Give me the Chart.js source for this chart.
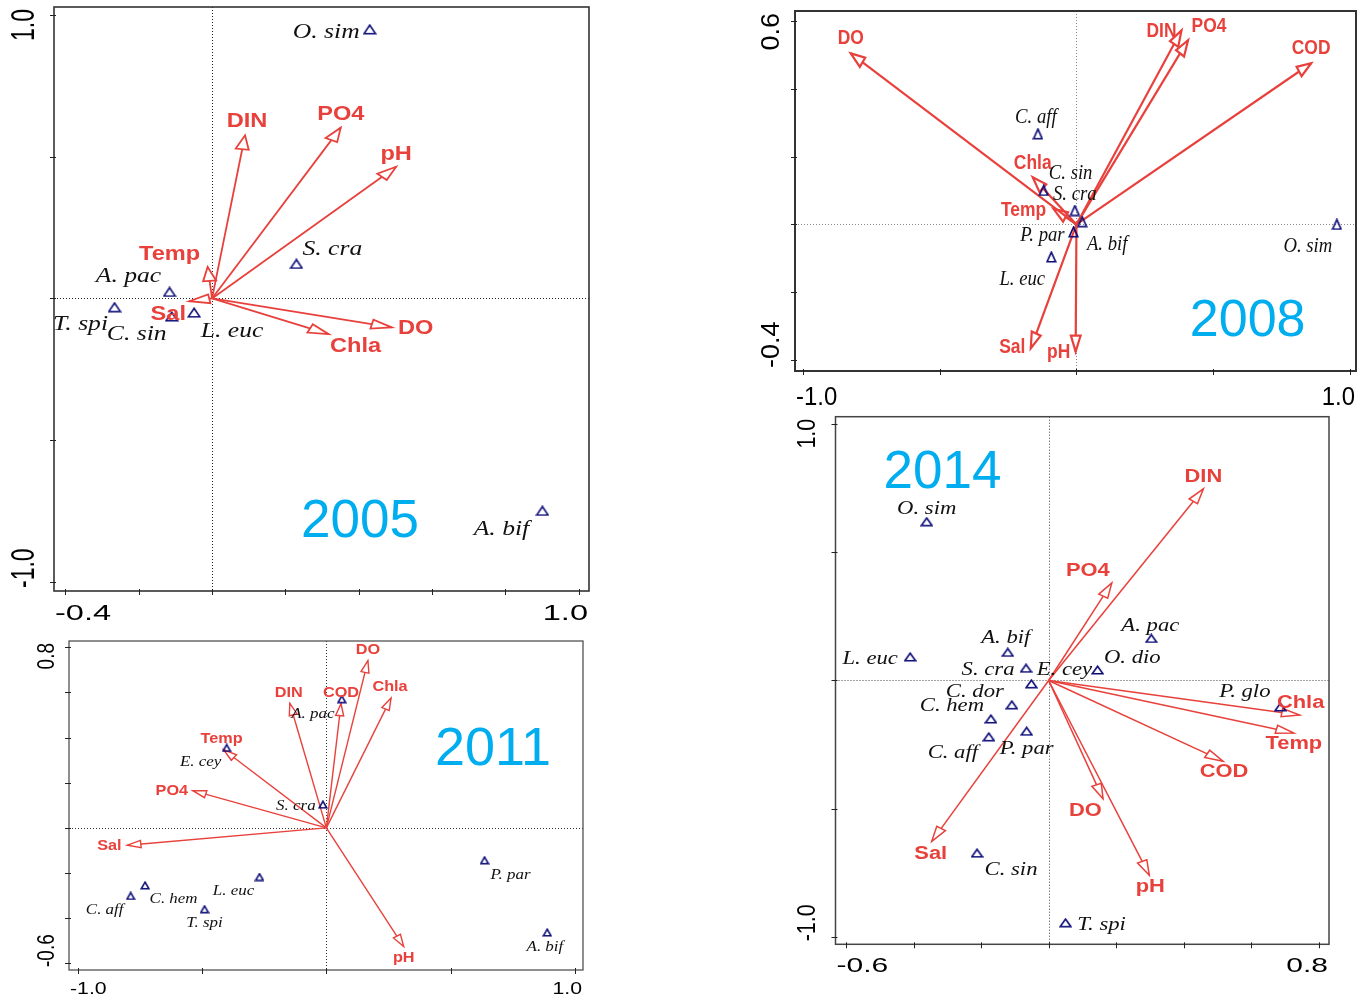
<!DOCTYPE html>
<html>
<head>
<meta charset="utf-8">
<title>RDA biplots 2005-2014</title>
<script src="https://cdn.jsdelivr.net/npm/chart.js@4.4.1/dist/chart.umd.min.js"></script>
<style>
  html, body { margin: 0; padding: 0; background: #ffffff; }
  body { width: 1362px; height: 999px; position: relative; overflow: hidden; }
  canvas { position: absolute; display: block; }
</style>
</head>
<body>
<canvas id="c2005"></canvas>
<canvas id="c2008"></canvas>
<canvas id="c2011"></canvas>
<canvas id="c2014"></canvas>
<script>
// ---------------- data ----------------
const years = ['2005', '2008', '2011', '2014'];

// 2005: environmental vectors and species scores (axis 1, axis 2)
const envNames2005 = ['DIN', 'PO4', 'pH', 'Temp', 'Sal', 'DO', 'Chla'];
const envX2005 = [0.090, 0.351, 0.502, -0.012, -0.062, 0.490, 0.318];
const envY2005 = [0.576, 0.603, 0.465, 0.111, -0.010, -0.102, -0.126];
const spNames2005 = ['O. sim', 'S. cra', 'A. pac', 'T. spi', 'C. sin', 'L. euc', 'A. bif'];
const spX2005 = [0.430, 0.230, -0.116, -0.266, -0.110, -0.049, 0.901];
const spY2005 = [0.950, 0.122, 0.023, -0.031, -0.064, -0.050, -0.750];
const xTicks2005 = [-0.4, -0.2, 0, 0.2, 0.4, 0.6, 0.8, 1.0];
const yTicks2005 = [-1.0, -0.5, 0, 0.5, 1.0];
const xTickText2005 = ['-0.4', '1.0'];
const yTickText2005 = ['-1.0', '1.0'];

// 2008
const envNames2008 = ['DO', 'DIN', 'PO4', 'COD', 'Chla', 'Temp', 'Sal', 'pH'];
const envX2008 = [-0.825, 0.384, 0.408, 0.858, -0.160, -0.084, -0.167, -0.003];
const envY2008 = [0.504, 0.572, 0.543, 0.475, 0.139, 0.046, -0.365, -0.375];
const spNames2008 = ['C. aff', 'C. sin', 'S. cra', 'A. bif', 'P. par', 'L. euc', 'O. sim'];
const spX2008 = [-0.141, -0.120, -0.006, 0.021, -0.011, -0.092, 0.952];
const spY2008 = [0.267, 0.100, 0.041, 0.008, -0.022, -0.096, 0.000];
const xTicks2008 = [-1.0, -0.5, 0, 0.5, 1.0];
const yTicks2008 = [-0.4, -0.2, 0, 0.2, 0.4, 0.6];
const xTickText2008 = ['-1.0', '1.0'];
const yTickText2008 = ['-0.4', '0.6'];

// 2011
const envNames2011 = ['DO', 'DIN', 'COD', 'Chla', 'Temp', 'PO4', 'Sal', 'pH'];
const envX2011 = [0.167, -0.147, 0.059, 0.260, -0.413, -0.537, -0.800, 0.311];
const envY2011 = [0.741, 0.552, 0.550, 0.575, 0.346, 0.165, -0.077, -0.526];
const spNames2011 = ['A. pac', 'E. cey', 'S. cra', 'P. par', 'L. euc', 'C. hem', 'C. aff', 'T. spi', 'A. bif'];
const spX2011 = [0.062, -0.401, -0.014, 0.636, -0.269, -0.729, -0.787, -0.490, 0.888];
const spY2011 = [0.570, 0.354, 0.103, -0.144, -0.218, -0.255, -0.302, -0.361, -0.464];
const xTicks2011 = [-1.0, -0.5, 0, 0.5, 1.0];
const yTicks2011 = [-0.6, -0.4, -0.2, 0, 0.2, 0.4, 0.6, 0.8];
const xTickText2011 = ['-1.0', '1.0'];
const yTickText2011 = ['-0.6', '0.8'];

// 2014
const envNames2014 = ['DIN', 'PO4', 'Chla', 'Temp', 'COD', 'DO', 'pH', 'Sal'];
const envX2014 = [0.458, 0.187, 0.743, 0.726, 0.516, 0.161, 0.298, -0.346];
const envY2014 = [0.748, 0.381, -0.135, -0.205, -0.315, -0.462, -0.760, -0.628];
const spNames2014 = ['O. sim', 'L. euc', 'A. bif', 'S. cra', 'E. cey', 'O. dio', 'A. pac',
                     'C. dor', 'C. hem', 'C. aff', 'P. par', 'C. sin', 'T. spi', 'P. glo'];
const spX2014 = [-0.361, -0.410, -0.121, -0.067, -0.051, 0.145, 0.304,
                 -0.109, -0.171, -0.177, -0.065, -0.212, 0.050, 0.686];
const spY2014 = [0.620, 0.092, 0.110, 0.048, -0.013, 0.041, 0.164,
                 -0.095, -0.150, -0.220, -0.198, -0.674, -0.946, -0.103];
const xTicks2014 = [-0.6, -0.4, -0.2, 0, 0.2, 0.4, 0.6, 0.8];
const yTicks2014 = [-1.0, -0.5, 0, 0.5, 1.0];
const xTickText2014 = ['-0.6', '0.8'];
const yTickText2014 = ['-1.0', '1.0'];

// ---------------- label placement (pixel shifts from the mark) ----------------
const envShift2005 = [[2, -14], [0, -13], [0, -12], [-38, -13], [-21, 13], [24, 1], [27, 12.5]];
const spShift2005 = [[-43.5, 3], [36, -14], [-41, -15], [-34, 17], [-35, 18], [38, 19], [-41, 18.6]];
const envShift2008 = [[0, -15], [-20, 1], [21, -14.3], [0, -15], [0, -14], [-30, 1], [-18.5, -1], [-17, 1]];
const spShift2008 = [[-2, -17], [27, -17], [0, -16], [25, 23], [-31, 3], [-29, 22], [-29, 22]];
const envShift2011 = [[0, -10.7], [-1, -10.7], [0, -10.7], [-1, -10.7], [-2, -11], [-21, 0], [-18, 1], [0, 11]];
const spShift2011 = [[-29, 14.7], [-26, 14.3], [-27, 1], [26, 15], [-26, 14], [28.5, 14], [-26, 14], [0, 13.3], [-2.3, 14.3]];
const envShift2014 = [[0, -12], [-24, -12], [1, -12], [0, 11.3], [1, 11.3], [-17.7, 12.5], [1, 12], [-1, 12.8]];
const spShift2014 = [[0, -12.8], [-40, 2], [-2, -14.3], [-38, 2], [33, -13.6], [34.7, -12], [-1, -12.5],
                     [-37, -13], [-39, -13], [-36, 16], [0, 17.7], [34, 17], [36, 2.6], [-35.5, -14.3]];

// ---------------- look ----------------
const RED = '#e8413c';
const NAVY = '#0c0c78';
const YEAR_BLUE = '#00adef';
const SANS = '"Liberation Sans", Arial, sans-serif';
const SERIF = '"Liberation Serif", "Times New Roman", serif';

const panels = [
  {
    year: years[0], id: 'c2005', left: 0, top: 0, width: 600, height: 630,
    area: { l: 54, t: 7, r: 589, b: 591 },
    xMin: -0.431, xMax: 1.028, yMin: -1.033, yMax: 1.029,
    env: [envNames2005, envX2005, envY2005, envShift2005],
    sp: [spNames2005, spX2005, spY2005, spShift2005],
    ticks: [xTicks2005, yTicks2005, xTickText2005, yTickText2005],
    st: { stretch: 1.45, headLen: 14, headHalf: 4.5, lineW: 1.8, tri: [12, 9],
          envFont: 20, envSx: 1.18, spFont: 21, spSx: 1.22,
          axXFont: 22, axXSx: 1.48, axYFont: 23, axYSx: 1.41, xLabDy: 23, yLabDx: -29,
          box: '#333333', boxW: 1.6, zero: '#222222',
          yearX: 360, yearY: 522, yearFont: 53 }
  },
  {
    year: years[1], id: 'c2008', left: 760, top: 0, width: 602, height: 412,
    area: { l: 35, t: 11, r: 600, b: 371 },
    xMin: -1.029, xMax: 1.022, yMin: -0.432, yMax: 0.629,
    env: [envNames2008, envX2008, envY2008, envShift2008],
    sp: [spNames2008, spX2008, spY2008, spShift2008],
    ticks: [xTicks2008, yTicks2008, xTickText2008, yTickText2008],
    st: { stretch: 0.88, headLen: 16, headHalf: 5.5, lineW: 2.2, tri: [9, 10],
          envFont: 21, envSx: 0.83, spFont: 22, spSx: 0.85,
          axXFont: 26, axXSx: 0.92, axYFont: 27, axYSx: 0.93, xLabDy: 27, yLabDx: -22.5,
          box: '#333333', boxW: 2, zero: '#888888',
          yearX: 487.7, yearY: 321.7, yearFont: 52 }
  },
  {
    year: years[2], id: 'c2011', left: 0, top: 630, width: 600, height: 369,
    area: { l: 69, t: 11, r: 583, b: 340 },
    xMin: -1.035, xMax: 1.032, yMin: -0.630, yMax: 0.828,
    env: [envNames2011, envX2011, envY2011, envShift2011],
    sp: [spNames2011, spX2011, spY2011, spShift2011],
    ticks: [xTicks2011, yTicks2011, xTickText2011, yTickText2011],
    st: { stretch: 1.12, headLen: 12, headHalf: 3.6, lineW: 1.4, tri: [8, 7],
          envFont: 14.5, envSx: 1.12, spFont: 15, spSx: 1.13,
          axXFont: 17, axXSx: 1.25, axYFont: 19, axYSx: 1.22, xLabDy: 19, yLabDx: -21,
          box: '#444444', boxW: 1.2, zero: '#333333',
          yearX: 493, yearY: 120, yearFont: 54 }
  },
  {
    year: years[3], id: 'c2014', left: 770, top: 400, width: 592, height: 599,
    area: { l: 65.5, t: 16.7, r: 559, b: 544.3 },
    xMin: -0.631, xMax: 0.830, yMin: -1.030, yMax: 1.030,
    env: [envNames2014, envX2014, envY2014, envShift2014],
    sp: [spNames2014, spX2014, spY2014, spShift2014],
    ticks: [xTicks2014, yTicks2014, xTickText2014, yTickText2014],
    st: { stretch: 1.2, headLen: 15, headHalf: 4.2, lineW: 1.5, tri: [11, 8],
          envFont: 17.5, envSx: 1.25, spFont: 18, spSx: 1.26,
          axXFont: 21, axXSx: 1.43, axYFont: 21.5, axYSx: 1.19, xLabDy: 21.5, yLabDx: -28,
          box: '#444444', boxW: 1.5, zero: '#444444',
          yearX: 172.5, yearY: 73.4, yearFont: 53 }
  }
];

// ---------------- drawing helpers ----------------
function text(ctx, str, x, y, font, color, sx, align, rot) {
  ctx.save();
  ctx.translate(x, y);
  ctx.scale(sx || 1, 1);
  if (rot) ctx.rotate(rot);
  ctx.font = font;
  ctx.fillStyle = color;
  ctx.textAlign = align || 'center';
  ctx.textBaseline = 'middle';
  ctx.fillText(str, 0, 0);
  ctx.restore();
}

// open triangular arrow head; geometry built in unstretched space then widened by st.stretch
function arrowHead(ctx, ox, oy, tx, ty, st) {
  const s = st.stretch;
  const dx = (tx - ox) / s, dy = ty - oy;
  const len = Math.hypot(dx, dy);
  if (len < 1e-6) return;
  const ux = dx / len, uy = dy / len;
  const L = Math.min(st.headLen, len), W = st.headHalf;
  const nx = -uy, ny = ux;
  const bx = -ux * L, by = -uy * L;
  ctx.save();
  ctx.beginPath();
  ctx.moveTo(tx, ty);
  ctx.lineTo(tx + (bx + nx * W) * s, ty + by + ny * W);
  ctx.lineTo(tx + (bx - nx * W) * s, ty + by - ny * W);
  ctx.closePath();
  ctx.fillStyle = '#ffffff';
  ctx.fill();
  ctx.lineWidth = st.lineW;
  ctx.strokeStyle = RED;
  ctx.lineJoin = 'miter';
  ctx.stroke();
  ctx.restore();
}

function triangleMarker(w, h, lw) {
  const c = document.createElement('canvas');
  c.width = w + 2; c.height = h + 2;
  const g = c.getContext('2d');
  g.strokeStyle = NAVY;
  g.lineWidth = lw;
  g.beginPath();
  g.moveTo((w + 2) / 2, 1.2);
  g.lineTo(w + 0.8, h + 0.8);
  g.lineTo(1.2, h + 0.8);
  g.closePath();
  g.stroke();
  return c;
}

function biplotPlugin(p) {
  const st = p.st;
  return {
    id: 'biplot' + p.year,
    beforeDatasetsDraw(chart) {
      const { ctx, chartArea: a, scales: { x, y } } = chart;
      const x0 = x.getPixelForValue(0), y0 = y.getPixelForValue(0);
      ctx.save();
      ctx.strokeStyle = st.zero;
      ctx.lineWidth = 1;
      ctx.setLineDash([1, 2]);
      ctx.beginPath();
      ctx.moveTo(Math.round(x0) + 0.5, a.top);
      ctx.lineTo(Math.round(x0) + 0.5, a.bottom);
      ctx.moveTo(a.left, Math.round(y0) + 0.5);
      ctx.lineTo(a.right, Math.round(y0) + 0.5);
      ctx.stroke();
      ctx.restore();
    },
    afterDatasetDraw(chart, args) {
      const ds = chart.data.datasets[args.index];
      if (!ds.isVector) return;
      const pts = args.meta.data;
      arrowHead(chart.ctx, pts[0].x, pts[0].y, pts[1].x, pts[1].y, st);
    },
    afterDraw(chart) {
      const { ctx, chartArea: a, scales: { x, y } } = chart;
      const [xt, yt, xtTxt, ytTxt] = p.ticks;

      // frame
      ctx.save();
      ctx.strokeStyle = st.box;
      ctx.lineWidth = st.boxW;
      ctx.strokeRect(a.left, a.top, a.right - a.left, a.bottom - a.top);
      // tick marks
      ctx.lineWidth = 1;
      ctx.strokeStyle = '#222222';
      ctx.beginPath();
      xt.forEach(v => {
        const px = Math.round(x.getPixelForValue(v)) + 0.5;
        ctx.moveTo(px, a.bottom - 2);
        ctx.lineTo(px, a.bottom + 4);
      });
      yt.forEach(v => {
        const py = Math.round(y.getPixelForValue(v)) + 0.5;
        ctx.moveTo(a.left + 2, py);
        ctx.lineTo(a.left - 4, py);
      });
      ctx.stroke();
      ctx.restore();

      // tick labels: first and last value of each axis
      const axX = `${st.axXFont}px ${SANS}`;
      const axY = `${st.axYFont}px ${SANS}`;
      text(ctx, xtTxt[0], a.left + 1, a.bottom + st.xLabDy, axX, '#000', st.axXSx, 'left');
      text(ctx, xtTxt[1], a.right - 1, a.bottom + st.xLabDy, axX, '#000', st.axXSx, 'right');
      text(ctx, ytTxt[0], a.left + st.yLabDx, a.bottom - 3, axY, '#000', st.axYSx, 'left', -Math.PI / 2);
      text(ctx, ytTxt[1], a.left + st.yLabDx, a.top + 2, axY, '#000', st.axYSx, 'right', -Math.PI / 2);

      // environmental variable names
      const [eN, eX, eY, eS] = p.env;
      const envFont = `bold ${st.envFont}px ${SANS}`;
      eN.forEach((n, i) => {
        const px = x.getPixelForValue(eX[i]) + eS[i][0];
        const py = y.getPixelForValue(eY[i]) + eS[i][1];
        text(ctx, n, px, py, envFont, RED, st.envSx, 'center');
      });

      // species names
      const [sN, sX, sY, sS] = p.sp;
      const spFont = `italic ${st.spFont}px ${SERIF}`;
      sN.forEach((n, i) => {
        const px = x.getPixelForValue(sX[i]) + sS[i][0];
        const py = y.getPixelForValue(sY[i]) + sS[i][1];
        text(ctx, n, px, py, spFont, '#111111', st.spSx, 'center');
      });

      // year
      text(ctx, p.year, st.yearX, st.yearY, `${st.yearFont}px ${SANS}`, YEAR_BLUE, 1, 'center');
    }
  };
}

function build(p) {
  const cv = document.getElementById(p.id);
  cv.width = p.width;
  cv.height = p.height;
  cv.style.left = p.left + 'px';
  cv.style.top = p.top + 'px';
  cv.style.width = p.width + 'px';
  cv.style.height = p.height + 'px';

  const [eN, eX, eY] = p.env;
  const [sN, sX, sY] = p.sp;
  const vectors = eN.map((n, i) => ({
    label: n,
    isVector: true,
    data: [{ x: 0, y: 0 }, { x: eX[i], y: eY[i] }],
    showLine: true,
    borderColor: RED,
    borderWidth: p.st.lineW,
    pointRadius: 0,
    order: 1
  }));
  const species = {
    label: 'species',
    data: sN.map((n, i) => ({ x: sX[i], y: sY[i] })),
    pointStyle: triangleMarker(p.st.tri[0], p.st.tri[1], 1.6),
    pointRadius: 5,
    showLine: false,
    order: 0
  };

  new Chart(cv, {
    type: 'scatter',
    data: { datasets: vectors.concat([species]) },
    options: {
      responsive: false,
      devicePixelRatio: 1,
      animation: false,
      events: [],
      layout: {
        padding: { left: p.area.l, top: p.area.t, right: p.width - p.area.r, bottom: p.height - p.area.b }
      },
      plugins: { legend: { display: false }, tooltip: { enabled: false } },
      scales: {
        x: { type: 'linear', display: false, bounds: 'data', min: p.xMin, max: p.xMax },
        y: { type: 'linear', display: false, bounds: 'data', min: p.yMin, max: p.yMax }
      }
    },
    plugins: [biplotPlugin(p)]
  });
}

function start() { panels.forEach(build); }
if (document.fonts && document.fonts.load) {
  Promise.all([
    document.fonts.load(`bold 20px ${SANS}`),
    document.fonts.load(`20px ${SANS}`),
    document.fonts.load(`italic 20px ${SERIF}`)
  ]).then(start, start);
} else {
  start();
}
</script>
</body>
</html>
